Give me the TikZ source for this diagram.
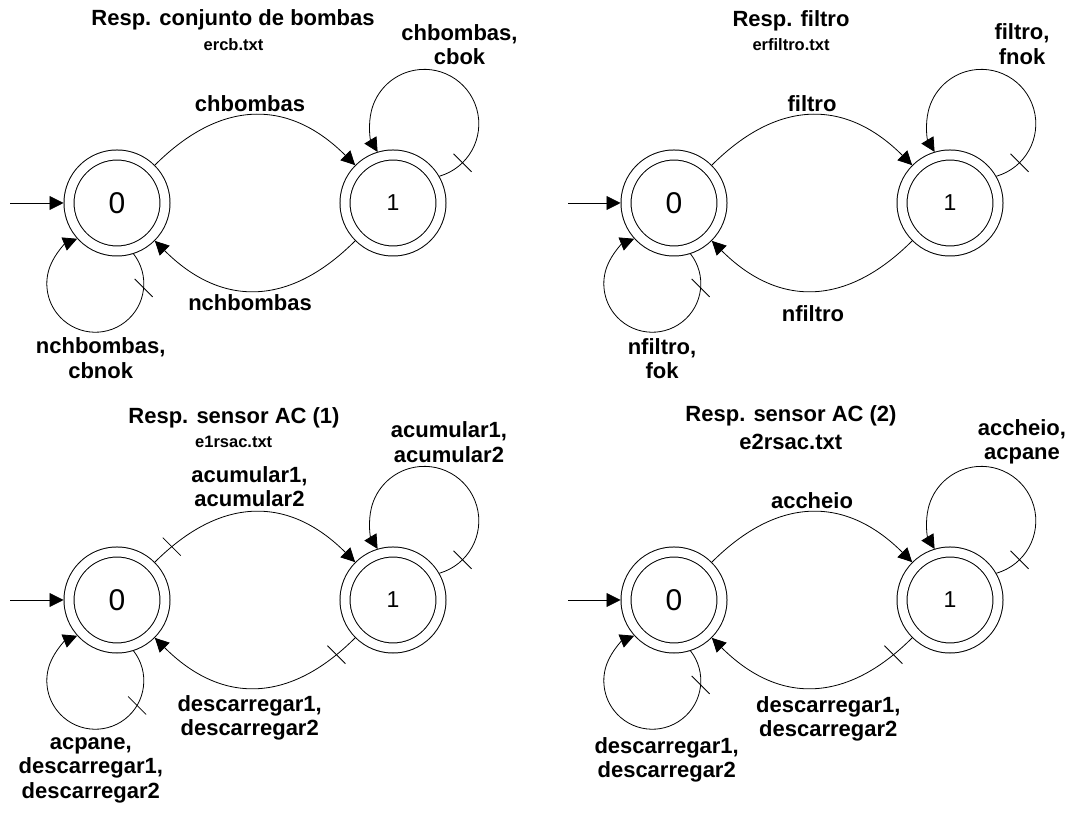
\documentclass[tikz,border=0pt]{standalone}
\usepackage{fontspec}
\setmainfont{Liberation Sans}
\usetikzlibrary{arrows.meta,decorations.markings}

\tikzset{
	estado/.style={circle, draw, double, double distance=9pt, line width=1pt,
		minimum size=96pt, inner sep=0pt, outer sep=5.5pt, font=\fontsize{#1}{#1}\selectfont},
	estado/.default=30,
	trans/.style={line width=0.8pt, -{Triangle[length=14pt,width=14pt]}},
	rotulo/.style={font=\fontsize{22}{24.5}\selectfont\bfseries, align=center, inner sep=0pt},
	arquivo/.style={font=\fontsize{16.5}{18}\selectfont\bfseries, inner sep=0pt},
	naoctrl/.style={postaction={decorate, decoration={markings,
		mark=at position #1 with {\pgftransformresetnontranslations
			\draw[-, line width=0.8pt] (-9pt,9pt) -- (9pt,-9pt);}}}}
}

\begin{document}
\begin{tikzpicture}[x=1pt, y=1pt]
	\useasboundingbox (0,0) rectangle (1074,813);

	% Resp. conjunto de bombas
	\node[estado] (a0) at (117,610) {0};
	\node[estado=23] (a1) at (393,610) {1};
	\coordinate (a-ini) at (10,610);
	\draw[trans] (a-ini) -- (a0);
	\draw[trans] (a0.45) to[out=45, in=135, looseness=1.2] (a1.135);
	\draw[trans] (a1.225) to[out=225, in=-45, looseness=1.2] (a0.-45);
	\draw[trans, naoctrl=0.1] (a1.30) arc[start angle=-74, end angle=211, radius=54.5];
	\draw[trans, naoctrl=0.15] (a0.-72) arc[start angle=38, end angle=-248, radius=48.5];
	\node[rotulo] at (233,793) {Resp. conjunto de bombas};
	\node[arquivo] at (233.5,768) {ercb.txt};
	\node[rotulo] at (250,709) {chbombas};
	\node[rotulo] at (250,510.5) {nchbombas};
	\node[rotulo] at (459.5,768.5) {chbombas,\\cbok};
	\node[rotulo] at (100.7,455) {nchbombas,\\cbnok};

	% Resp. filtro
	\node[estado] (b0) at (674,610) {0};
	\node[estado=23] (b1) at (950,610) {1};
	\coordinate (b-ini) at (568,610);
	\draw[trans] (b-ini) -- (b0);
	\draw[trans] (b0.45) to[out=45, in=135, looseness=1.2] (b1.135);
	\draw[trans] (b1.225) to[out=225, in=-45, looseness=1.2] (b0.-45);
	\draw[trans, naoctrl=0.1] (b1.30) arc[start angle=-74, end angle=211, radius=54.5];
	\draw[trans, naoctrl=0.15] (b0.-72) arc[start angle=38, end angle=-248, radius=48.5];
	\node[rotulo] at (791,792) {Resp. filtro};
	\node[arquivo] at (791,768) {erfiltro.txt};
	\node[rotulo] at (812,709) {filtro};
	\node[rotulo] at (813,499.3) {nfiltro};
	\node[rotulo] at (1022,769) {filtro,\\fnok};
	\node[rotulo] at (662,454.3) {nfiltro,\\fok};

	% Resp. sensor AC (1)
	\node[estado] (c0) at (117,213) {0};
	\node[estado=23] (c1) at (393,213) {1};
	\coordinate (c-ini) at (10,213);
	\draw[trans] (c-ini) -- (c0);
	\draw[trans, naoctrl=0.1] (c0.45) to[out=45, in=135, looseness=1.2] (c1.135);
	\draw[trans, naoctrl=0.11] (c1.225) to[out=225, in=-45, looseness=1.2] (c0.-45);
	\draw[trans, naoctrl=0.1] (c1.30) arc[start angle=-74, end angle=211, radius=54.5];
	\draw[trans, naoctrl=0.24] (c0.-72) arc[start angle=38, end angle=-248, radius=48.5];
	\node[rotulo] at (234,395) {Resp. sensor AC (1)};
	\node[arquivo] at (233.7,371.3) {e1rsac.txt};
	\node[rotulo] at (249.5,326.5) {acumular1,\\acumular2};
	\node[rotulo] at (249.7,95) {descarregar1,\\descarregar2};
	\node[rotulo] at (449,371) {acumular1,\\acumular2};
	\node[rotulo] at (90.8,43) {acpane,\\descarregar1,\\descarregar2};

	% Resp. sensor AC (2)
	\node[estado] (d0) at (674,213) {0};
	\node[estado=23] (d1) at (950,213) {1};
	\coordinate (d-ini) at (568,213);
	\draw[trans] (d-ini) -- (d0);
	\draw[trans] (d0.45) to[out=45, in=135, looseness=1.2] (d1.135);
	\draw[trans, naoctrl=0.11] (d1.225) to[out=225, in=-45, looseness=1.2] (d0.-45);
	\draw[trans, naoctrl=0.1] (d1.30) arc[start angle=-74, end angle=211, radius=54.5];
	\draw[trans, naoctrl=0.15] (d0.-72) arc[start angle=38, end angle=-248, radius=48.5];
	\node[rotulo] at (791,397.3) {Resp. sensor AC (2)};
	\node[rotulo] at (790.8,371.3) {e2rsac.txt};
	\node[rotulo] at (812,312.3) {accheio};
	\node[rotulo] at (828.3,94) {descarregar1,\\descarregar2};
	\node[rotulo] at (1022,371) {accheio,\\acpane};
	\node[rotulo] at (666.7,53) {descarregar1,\\descarregar2};
\end{tikzpicture}
\end{document}
